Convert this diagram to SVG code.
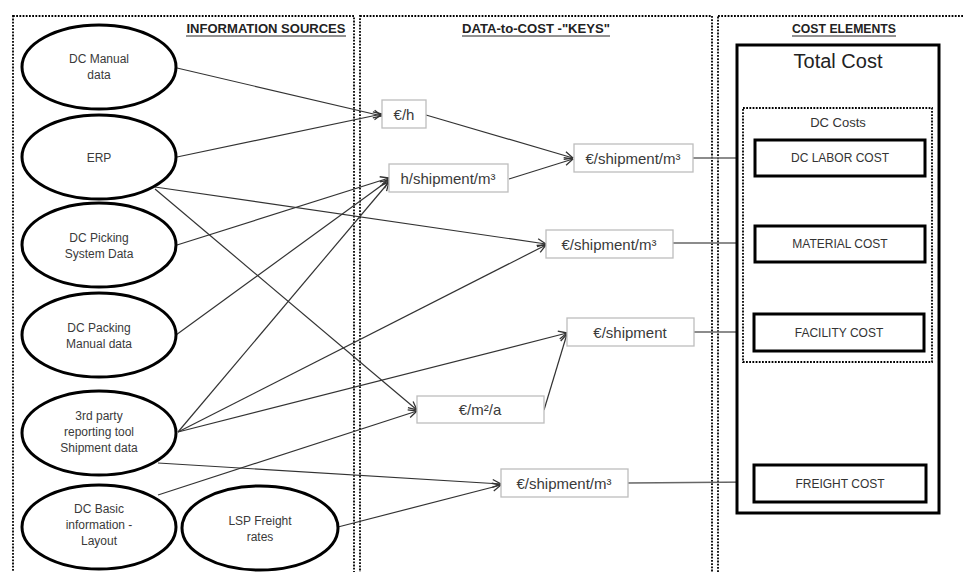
<svg xmlns="http://www.w3.org/2000/svg" width="964" height="572" viewBox="0 0 964 572">
  <style>
    .panel { fill: none; stroke: #000; stroke-width: 1.8; stroke-dasharray: 1.8 1.4; }
    .src { fill: #fff; stroke: #000; stroke-width: 3; }
    .key { fill: #fff; stroke: #bdbdbd; stroke-width: 1.3; }
    .cost { fill: #fff; stroke: #000; stroke-width: 3; }
    .hdr { font-family: "Liberation Sans", Arial, sans-serif; font-size: 12.8px; font-weight: bold; fill: #222; text-anchor: middle; }
    .t { font-family: "Liberation Sans", Arial, sans-serif; font-size: 12px; fill: #3a3a3a; text-anchor: middle; }
    .kt { font-family: "Liberation Sans", Arial, sans-serif; font-size: 15px; fill: #3a3a3a; text-anchor: middle; }
    .ct { font-family: "Liberation Sans", Arial, sans-serif; font-size: 12px; fill: #333; text-anchor: middle; }
    .link { fill: none; stroke: #333; stroke-width: 1.2; }
    .link2 { fill: none; stroke: #666; stroke-width: 1.3; }
  </style>
  <defs>
    <marker id="arr" viewBox="0 0 10 10" refX="9.5" refY="5" markerWidth="10" markerHeight="10" markerUnits="userSpaceOnUse" orient="auto">
      <path d="M1,1 L9.5,5 L1,9" fill="none" stroke="#333" stroke-width="1.3"/>
    </marker>
    <marker id="arr2" viewBox="0 0 10 10" refX="9.5" refY="5" markerWidth="10" markerHeight="10" markerUnits="userSpaceOnUse" orient="auto">
      <path d="M1,1 L9.5,5 L1,9" fill="none" stroke="#666" stroke-width="1.3"/>
    </marker>
  </defs>

  <rect width="964" height="572" fill="#fff"/>

  <!-- column frames -->
  <g id="columns">
    <rect class="panel" x="13" y="16" width="341" height="570"/>
    <rect class="panel" x="360" y="16" width="352" height="570"/>
    <rect class="panel" x="718" y="16" width="260" height="570"/>
    <text class="hdr" x="266" y="33" textLength="159" lengthAdjust="spacingAndGlyphs">INFORMATION SOURCES</text>
    <line x1="186" y1="36" x2="346" y2="36" stroke="#222" stroke-width="1"/>
    <text class="hdr" x="536" y="33" textLength="148" lengthAdjust="spacingAndGlyphs">DATA-to-COST -"KEYS"</text>
    <line x1="462" y1="36" x2="610" y2="36" stroke="#222" stroke-width="1"/>
    <text class="hdr" x="844" y="33" textLength="104" lengthAdjust="spacingAndGlyphs">COST ELEMENTS</text>
    <line x1="792" y1="36" x2="896" y2="36" stroke="#222" stroke-width="1"/>
  </g>

  <!-- connectors -->
  <g id="connectors">
    <line class="link" x1="177" y1="68" x2="382" y2="116" marker-end="url(#arr)"/>
    <line class="link" x1="177" y1="157" x2="382" y2="114" marker-end="url(#arr)"/>
    <line class="link" x1="155" y1="187" x2="546" y2="244" marker-end="url(#arr)"/>
    <line class="link" x1="155" y1="189" x2="417" y2="410" marker-end="url(#arr)"/>
    <line class="link" x1="177" y1="245" x2="389" y2="178" marker-end="url(#arr)"/>
    <line class="link" x1="176" y1="335" x2="389" y2="180" marker-end="url(#arr)"/>
    <line class="link" x1="178" y1="432" x2="389" y2="182" marker-end="url(#arr)"/>
    <line class="link" x1="178" y1="432" x2="546" y2="245" marker-end="url(#arr)"/>
    <line class="link" x1="178" y1="432" x2="567" y2="333" marker-end="url(#arr)"/>
    <line class="link" x1="158" y1="463" x2="501" y2="484" marker-end="url(#arr)"/>
    <line class="link" x1="158" y1="495" x2="417" y2="411" marker-end="url(#arr)"/>
    <line class="link" x1="338" y1="527" x2="501" y2="485" marker-end="url(#arr)"/>
    <line class="link" x1="426" y1="115" x2="573" y2="158" marker-end="url(#arr)"/>
    <line class="link" x1="509" y1="179" x2="573" y2="159" marker-end="url(#arr)"/>
    <line class="link" x1="544" y1="410" x2="567" y2="334" marker-end="url(#arr)"/>
    <line class="link2" x1="693" y1="158" x2="755" y2="158" marker-end="url(#arr2)"/>
    <line class="link2" x1="673" y1="243" x2="755" y2="243" marker-end="url(#arr2)"/>
    <line class="link2" x1="694" y1="332" x2="754" y2="332" marker-end="url(#arr2)"/>
    <line class="link2" x1="628" y1="483" x2="754" y2="482" marker-end="url(#arr2)"/>
  </g>

  <!-- information sources -->
  <g id="src-dc-manual">
    <ellipse class="src" cx="99" cy="67" rx="77" ry="42"/>
    <text class="t" x="99" y="63">DC Manual</text>
    <text class="t" x="99" y="79">data</text>
  </g>
  <g id="src-erp">
    <ellipse class="src" cx="99" cy="157" rx="77" ry="42"/>
    <text class="t" x="99" y="162">ERP</text>
  </g>
  <g id="src-dc-picking">
    <ellipse class="src" cx="99" cy="245" rx="77" ry="42"/>
    <text class="t" x="99" y="242">DC Picking</text>
    <text class="t" x="99" y="258">System Data</text>
  </g>
  <g id="src-dc-packing">
    <ellipse class="src" cx="99" cy="335" rx="77" ry="42"/>
    <text class="t" x="99" y="332">DC Packing</text>
    <text class="t" x="99" y="348">Manual data</text>
  </g>
  <g id="src-3rd-party">
    <ellipse class="src" cx="99" cy="433" rx="77" ry="42"/>
    <text class="t" x="99" y="420">3rd party</text>
    <text class="t" x="99" y="436">reporting tool</text>
    <text class="t" x="99" y="452">Shipment data</text>
  </g>
  <g id="src-dc-basic">
    <ellipse class="src" cx="99" cy="527" rx="77" ry="42"/>
    <text class="t" x="99" y="513">DC Basic</text>
    <text class="t" x="99" y="529">information -</text>
    <text class="t" x="99" y="545">Layout</text>
  </g>
  <g id="src-lsp">
    <ellipse class="src" cx="260" cy="528" rx="78" ry="42"/>
    <text class="t" x="260" y="525">LSP Freight</text>
    <text class="t" x="260" y="541">rates</text>
  </g>

  <!-- data-to-cost keys -->
  <g id="key-eur-h">
    <rect class="key" x="382" y="100" width="44" height="28"/>
    <text class="kt" x="404" y="120">€/h</text>
  </g>
  <g id="key-h-shipment-m3">
    <rect class="key" x="389" y="164" width="119" height="28"/>
    <text class="kt" x="448" y="184">h/shipment/m³</text>
  </g>
  <g id="key-eur-shipment-m3-labor">
    <rect class="key" x="574" y="144" width="119" height="28"/>
    <text class="kt" x="633" y="164">€/shipment/m³</text>
  </g>
  <g id="key-eur-shipment-m3-material">
    <rect class="key" x="546" y="230" width="127" height="28"/>
    <text class="kt" x="609" y="250">€/shipment/m³</text>
  </g>
  <g id="key-eur-shipment">
    <rect class="key" x="567" y="318" width="127" height="28"/>
    <text class="kt" x="630" y="338">€/shipment</text>
  </g>
  <g id="key-eur-m2-a">
    <rect class="key" x="417" y="396" width="127" height="27"/>
    <text class="kt" x="480" y="415">€/m²/a</text>
  </g>
  <g id="key-eur-shipment-m3-freight">
    <rect class="key" x="501" y="469" width="127" height="28"/>
    <text class="kt" x="564" y="489">€/shipment/m³</text>
  </g>

  <!-- cost elements -->
  <g id="total-cost">
    <rect class="cost" x="737" y="45" width="202" height="468"/>
    <text x="838" y="68" font-family="Liberation Sans, Arial, sans-serif" font-size="20" fill="#222" text-anchor="middle">Total Cost</text>
  </g>
  <g id="dc-costs">
    <rect class="panel" x="743" y="108" width="189" height="254"/>
    <text x="838" y="127" font-family="Liberation Sans, Arial, sans-serif" font-size="13" fill="#333" text-anchor="middle">DC Costs</text>
  </g>
  <g id="cost-dc-labor">
    <rect class="cost" x="755" y="140" width="170" height="36"/>
    <text class="ct" x="840" y="162">DC LABOR COST</text>
  </g>
  <g id="cost-material">
    <rect class="cost" x="755" y="226" width="170" height="36"/>
    <text class="ct" x="840" y="248">MATERIAL COST</text>
  </g>
  <g id="cost-facility">
    <rect class="cost" x="754" y="314" width="170" height="37"/>
    <text class="ct" x="839" y="337">FACILITY COST</text>
  </g>
  <g id="cost-freight">
    <rect class="cost" x="754" y="465" width="172" height="37"/>
    <text class="ct" x="840" y="488">FREIGHT COST</text>
  </g>
</svg>
